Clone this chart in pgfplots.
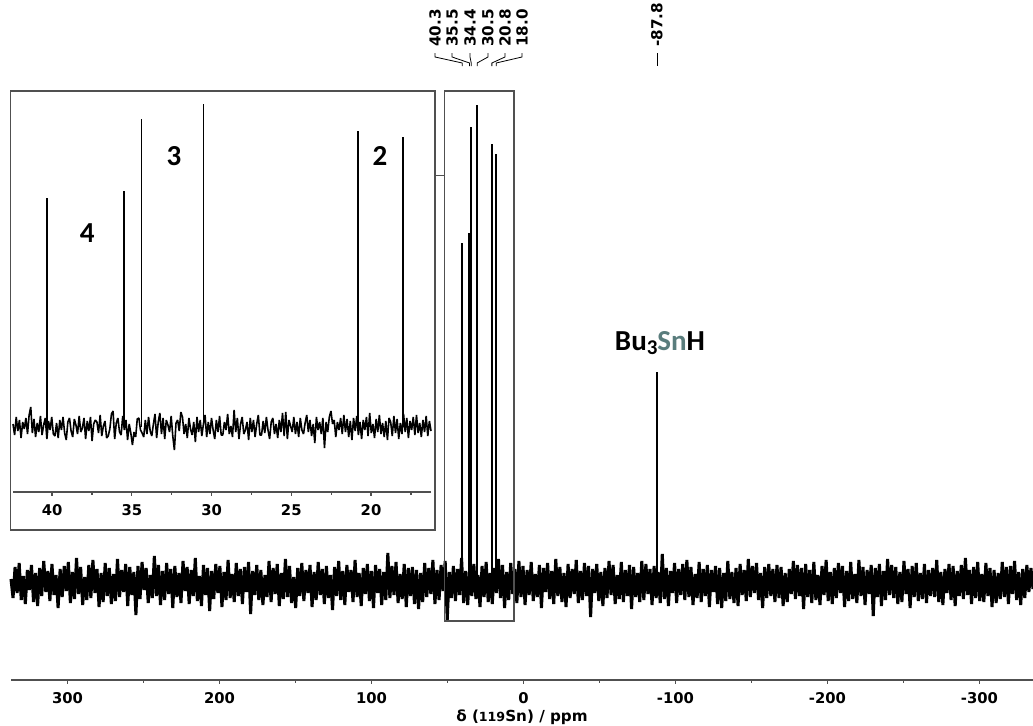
\documentclass[border=0pt]{standalone}
\usepackage{pgfplots}
\pgfplotsset{compat=1.18}
\usepackage{pgfplotstable}
\usepackage{fontspec}
\setmainfont{DejaVu Sans}
\newfontfamily\calib{Carlito}
\definecolor{sncol}{RGB}{90,125,125}
\definecolor{axgray}{RGB}{80,80,80}
\tikzset{
  lbl/.style={rotate=90, anchor=west, inner sep=0pt, font=\bfseries\fontsize{7.6}{8}\selectfont},
  ldr/.style={black, line width=0.4pt},
}

\pgfplotstableread[row sep=\\]{
y\\
5\\-14\\17\\-9\\21\\-16\\8\\-20\\14\\-6\\19\\-18\\11\\-22\\16\\-12\\23\\-8\\13\\-17\\20\\-11\\9\\-24\\15\\
-13\\18\\-7\\22\\-19\\12\\-15\\26\\-10\\17\\-21\\7\\-16\\19\\-14\\24\\-9\\15\\-23\\11\\-18\\21\\-12\\16\\-20\\
10\\-17\\25\\-13\\14\\-8\\20\\-22\\17\\-11\\12\\-31\\18\\-15\\22\\-6\\16\\-19\\9\\-14\\28\\-12\\19\\-21\\13\\
-16\\21\\-10\\15\\-24\\18\\-13\\11\\-19\\23\\-7\\17\\-20\\14\\-12\\26\\-17\\8\\-22\\19\\-11\\16\\-27\\13\\-15\\
20\\-9\\18\\-23\\12\\-16\\24\\-14\\10\\-18\\21\\-12\\15\\-20\\17\\-8\\22\\-30\\13\\-11\\19\\-16\\14\\-21\\9\\
-13\\23\\-18\\16\\-10\\20\\-22\\11\\-15\\25\\-13\\18\\-19\\7\\-24\\16\\-12\\21\\-17\\14\\-9\\19\\-23\\12\\-16\\
22\\-11\\15\\-20\\18\\-14\\9\\-26\\17\\-12\\23\\-16\\13\\-21\\19\\-8\\14\\-18\\24\\-13\\11\\-22\\16\\-10\\20\\
-17\\13\\-24\\19\\-9\\15\\-21\\12\\-16\\31\\-14\\18\\-11\\22\\-19\\10\\-15\\20\\-23\\16\\-12\\17\\-20\\14\\-25\\
11\\-18\\21\\-13\\16\\-10\\24\\-20\\14\\-16\\19\\-7\\23\\-36\\12\\-14\\18\\-17\\15\\-11\\26\\-19\\13\\-21\\17\\
-12\\20\\-15\\9\\-23\\18\\-13\\22\\-18\\11\\-20\\16\\-9\\25\\-14\\19\\-24\\12\\-16\\21\\-10\\15\\-19\\23\\-13\\
18\\-21\\14\\-11\\22\\-17\\10\\-13\\19\\-24\\16\\-8\\21\\-15\\13\\-20\\25\\-12\\17\\-18\\11\\-23\\20\\-14\\15\\
-10\\24\\-19\\13\\-16\\21\\-12\\18\\-33\\15\\-9\\20\\-17\\12\\-22\\16\\-14\\23\\-11\\19\\-20\\9\\-15\\22\\-18\\
14\\-12\\19\\-25\\17\\-13\\11\\-18\\23\\-16\\20\\-10\\15\\-21\\18\\-14\\12\\-19\\30\\-15\\16\\-22\\13\\-9\\21\\
-19\\15\\-11\\20\\-16\\24\\-13\\17\\-21\\10\\-14\\22\\-18\\15\\-12\\19\\-23\\14\\-8\\18\\-20\\16\\-24\\11\\-17\\
23\\-15\\12\\-19\\16\\-22\\20\\-11\\14\\-17\\25\\-13\\18\\-9\\21\\-16\\11\\-24\\17\\-14\\20\\-12\\15\\-18\\19\\
-14\\17\\-22\\11\\-18\\15\\-10\\23\\-15\\19\\-12\\16\\-25\\20\\-13\\14\\-19\\22\\-16\\9\\-21\\18\\-11\\24\\-17\\
12\\-20\\16\\-14\\21\\-9\\18\\-23\\13\\-17\\22\\-15\\10\\-19\\24\\-12\\17\\-21\\14\\-10\\19\\-32\\16\\-13\\20\\
-22\\13\\-16\\25\\-11\\19\\-14\\17\\-20\\12\\-18\\23\\-10\\15\\-24\\18\\-13\\21\\-17\\11\\-15\\20\\-19\\14\\-12\\
16\\-13\\24\\-18\\12\\-21\\15\\-9\\20\\-16\\18\\-22\\13\\-12\\19\\-15\\26\\-11\\14\\-20\\17\\-14\\22\\-17\\10\\
-18\\21\\-12\\16\\-23\\14\\-19\\11\\-15\\22\\-13\\17\\-20\\18\\-10\\23\\-16\\12\\-21\\15\\-14\\19\\-8\\16\\-5\\
}\mainnoise

\pgfplotstableread[row sep=\\]{
y\\
3\\-8\\10\\-4\\7\\-11\\5\\-2\\9\\-7\\12\\20\\-6\\8\\-10\\4\\-5\\11\\-8\\2\\9\\-12\\6\\-3\\10\\-7\\
-9\\4\\-11\\7\\-3\\10\\-6\\-13\\5\\9\\-4\\-10\\8\\2\\-7\\11\\-5\\-1\\9\\-12\\6\\-4\\10\\-14\\3\\7\\
5\\-6\\12\\-9\\1\\6\\-11\\-9\\-2\\13\\16\\-12\\4\\9\\-5\\-8\\11\\-3\\7\\-13\\3\\-6\\-18\\-5\\-10\\8\\
9\\-3\\-6\\-10\\7\\-7\\10\\-4\\-9\\3\\13\\-11\\5\\14\\-7\\9\\-12\\7\\2\\-5\\11\\-9\\-23\\4\\7\\-4\\
15\\10\\-7\\3\\-11\\9\\-2\\-8\\5\\-15\\10\\-5\\7\\-9\\3\\12\\-10\\5\\-7\\9\\-3\\-12\\7\\-5\\11\\-8\\
-8\\5\\-3\\13\\-7\\1\\-10\\17\\-5\\9\\-12\\3\\10\\-7\\-3\\5\\-13\\9\\-5\\7\\-10\\3\\12\\-8\\-8\\6\\
-6\\10\\-3\\-12\\5\\9\\-7\\3\\-11\\7\\-5\\14\\-9\\15\\-12\\7\\1\\-5\\10\\-7\\5\\-10\\9\\-3\\-7\\4\\
12\\-5\\7\\-9\\3\\-16\\10\\-3\\5\\-7\\9\\-21\\5\\-5\\10\\16\\3\\7\\-10\\5\\-3\\9\\-7\\12\\-5\\8\\
-10\\6\\-13\\9\\-4\\11\\-8\\5\\-12\\7\\-3\\10\\-9\\14\\-6\\3\\-11\\8\\-5\\12\\-7\\4\\-10\\6\\-13\\9\\
5\\-9\\11\\-6\\8\\-12\\4\\-7\\13\\-5\\9\\-11\\6\\-3\\10\\-8\\12\\-6\\4\\-10\\7\\-5\\11\\-9\\6\\-4\\
}\insetnoise

\begin{document}
\begin{tikzpicture}
\begin{axis}[
  at={(5.5pt,22.5pt)}, anchor=south west,
  scale only axis, width=511pt, height=340pt,
  xmin=-335.2, xmax=337.2, x dir=reverse,
  ymin=-96, ymax=584,
  axis x line=bottom, axis y line=none,
  axis line style={-, draw=axgray, line width=0.7pt},
  xtick={-300,-200,-100,0,100,200,300},
  xticklabels={-300,-200,-100,0,100,200,300},
  minor xtick={-250,-150,-50,50,150,250},
  tick align=outside, major tick length=1.8pt, minor tick length=1.3pt,
  tick style={draw=axgray, line width=0.6pt},
  xticklabel style={font=\bfseries\fontsize{7.4}{8}\selectfont, yshift=-1pt},
  xlabel={\bfseries\fontsize{7.6}{8}\selectfont δ ({\fontsize{6.3}{6}\selectfont 119}Sn) / ppm},
  xlabel style={yshift=4pt},
  clip=false,
]
\addplot[black, line width=1.5pt, line join=bevel] table[x expr=337.2-\coordindex*1.34749, y=y] {\mainnoise};
\addplot[ycomb, black, line width=1.1pt] coordinates {
  (40.3,341) (35.5,351) (34.4,457) (30.5,479) (20.8,440) (18.0,430) (-87.8,212)};
% boxes
\draw[axgray, line width=0.6pt] (axis cs:337.4,493) rectangle (axis cs:58.2,54);
\draw[axgray, line width=0.6pt] (axis cs:51.8,493) rectangle (axis cs:6.25,-37);
\draw[axgray, line width=0.6pt] (axis cs:58.2,408.5) -- (axis cs:51.8,408.5);
% peak labels
\node[lbl] at (axis cs:58.2,537) {40.3};
\draw[ldr] (axis cs:58.2,531) -- (axis cs:58.2,527) -- (axis cs:40.3,521) -- (axis cs:40.3,518);
\node[lbl] at (axis cs:47.0,537) {35.5};
\draw[ldr] (axis cs:47.0,531) -- (axis cs:47.0,527) -- (axis cs:35.5,521) -- (axis cs:35.5,518);
\node[lbl] at (axis cs:35.2,537) {34.4};
\draw[ldr] (axis cs:35.2,531) -- (axis cs:35.2,527) -- (axis cs:34.4,521) -- (axis cs:34.4,518);
\node[lbl] at (axis cs:23.4,537) {30.5};
\draw[ldr] (axis cs:23.4,531) -- (axis cs:23.4,527) -- (axis cs:30.5,521) -- (axis cs:30.5,518);
\node[lbl] at (axis cs:12.2,537) {20.8};
\draw[ldr] (axis cs:12.2,531) -- (axis cs:12.2,527) -- (axis cs:20.8,521) -- (axis cs:20.8,518);
\node[lbl] at (axis cs:1.0,537) {18.0};
\draw[ldr] (axis cs:1.0,531) -- (axis cs:1.0,527) -- (axis cs:18.0,521) -- (axis cs:18.0,518);
\node[lbl] at (axis cs:-87.8,537) {-87.8};
\draw[ldr] (axis cs:-87.8,531) -- (axis cs:-87.8,518);
\node[font=\calib\bfseries\fontsize{14.5}{16}\selectfont] at (axis cs:-89.8,241)
  {Bu\raisebox{-0.12em}{\fontsize{10.5}{11}\selectfont 3}\textcolor{sncol}{Sn}H};
\end{axis}

\begin{axis}[
  at={(6.5pt,116.5pt)}, anchor=south west,
  scale only axis, width=209pt, height=200.5pt,
  xmin=16.24, xmax=42.45, x dir=reverse,
  ymin=-65, ymax=336,
  axis x line=bottom, axis y line=none,
  axis line style={-, draw=axgray, line width=0.7pt},
  xtick={20,25,30,35,40},
  xticklabels={20,25,30,35,40},
  minor xtick={17.5,22.5,27.5,32.5,37.5},
  tick align=outside, major tick length=1.8pt, minor tick length=1.3pt,
  tick style={draw=axgray, line width=0.6pt},
  xticklabel style={font=\bfseries\fontsize{7.4}{8}\selectfont, yshift=-1pt},
  clip=false,
]
\addplot[black, line width=0.8pt, line join=bevel] table[x expr=42.45-\coordindex*0.10120, y=y] {\insetnoise};
\addplot[ycomb, black, line width=0.8pt] coordinates {
  (40.3,229) (35.5,236) (34.4,308) (30.5,323) (20.8,296) (18.0,290)};
\node[font=\calib\bfseries\fontsize{14.5}{16}\selectfont] at (axis cs:37.8,194) {4};
\node[font=\calib\bfseries\fontsize{14.5}{16}\selectfont] at (axis cs:32.35,271) {3};
\node[font=\calib\bfseries\fontsize{14.5}{16}\selectfont] at (axis cs:19.44,271) {2};
\end{axis}
\pgfresetboundingbox
\useasboundingbox (0,0) rectangle (516.5pt,362.5pt);
\end{tikzpicture}
\end{document}
